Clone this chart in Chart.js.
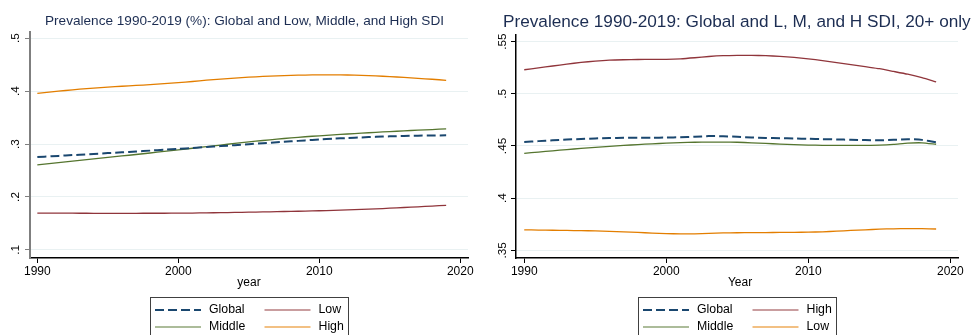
<!DOCTYPE html>
<html><head><meta charset="utf-8">
<script src="https://cdn.jsdelivr.net/npm/chart.js@4.4.1/dist/chart.umd.min.js"></script>
<style>
html,body{margin:0;padding:0;background:#fff;}
#c1{position:absolute;left:0;top:0;}
#c2{position:absolute;left:485px;top:0;}
</style></head><body>
<canvas id="c1" width="485" height="335"></canvas>
<canvas id="c2" width="486" height="335"></canvas>
<script>
const years = [1990,1991,1992,1993,1994,1995,1996,1997,1998,1999,2000,2001,2002,2003,2004,2005,2006,2007,2008,2009,2010,2011,2012,2013,2014,2015,2016,2017,2018,2019];
const xTicks = [1990,2000,2010,2020];
const leftYTicks = [0.1,0.2,0.3,0.4,0.5];
const rightYTicks = [0.35,0.4,0.45,0.5,0.55];

// Left panel: all ages (%)
const leftGlobal = [.2753,.2768,.2783,.2798,.2813,.2828,.2843,.2859,.2875,.2892,.2909,.2925,.2942,.2960,.2978,.2996,.3014,.3032,.3050,.3068,.3085,.3100,.3113,.3125,.3135,.3144,.3151,.3157,.3161,.3164];
const leftLow = [.1696,.1695,.1694,.1693,.1692,.1692,.1692,.1692,.1693,.1693,.1694,.1697,.1700,.1704,.1708,.1713,.1718,.1723,.1728,.1734,.1740,.1747,.1755,.1765,.1776,.1788,.1801,.1814,.1828,.1842];
const leftMiddle = [.2606,.2634,.2662,.2690,.2718,.2746,.2774,.2802,.2830,.2860,.2890,.2920,.2950,.2980,.3010,.3040,.3066,.3092,.3115,.3137,.3155,.3172,.3189,.3205,.3220,.3234,.3248,.3261,.3273,.3285];
const leftHigh = [.3956,.3985,.4010,.4035,.4055,.4075,.4090,.4105,.4120,.4138,.4160,.4180,.4205,.4225,.4245,.4262,.4275,.4287,.4296,.4302,.4305,.4306,.4303,.4296,.4286,.4272,.4257,.4240,.4222,.4203];

// Right panel: 20+ only
const rightGlobal = [.4538,.4546,.4554,.4561,.4567,.4572,.4576,.4578,.4579,.4579,.4580,.4583,.4588,.4594,.4593,.4587,.4581,.4577,.4574,.4571,.4568,.4565,.4562,.4559,.4556,.4554,.4558,.4565,.4558,.4535];
const rightHigh = [.5230,.5248,.5266,.5284,.5300,.5313,.5322,.5326,.5328,.5329,.5330,.5335,.5345,.5357,.5365,.5368,.5368,.5365,.5358,.5348,.5334,.5318,.5299,.5279,.5259,.5240,.5214,.5187,.5154,.5114];
const rightMiddle = [.4429,.4441,.4453,.4465,.4476,.4486,.4496,.4505,.4513,.4520,.4526,.4531,.4535,.4537,.4537,.4535,.4530,.4524,.4518,.4512,.4508,.4506,.4505,.4505,.4506,.4508,.4515,.4527,.4530,.4516];
const rightLow = [.3696,.3694,.3692,.3690,.3688,.3686,.3682,.3677,.3671,.3665,.3660,.3657,.3658,.3662,.3666,.3668,.3669,.3670,.3671,.3672,.3674,.3677,.3683,.3690,.3696,.3702,.3706,.3708,.3707,.3704];

const NAVY = '#1a476f', MAROON = '#90353b', GREEN = '#55752f', ORANGE = '#e37e00';
const FONT = '"Liberation Sans", Arial, Helvetica, sans-serif';

function pts(arr){ return arr.map((v,i)=>({x: years[i], y: v})); }
function ds(label, arr, color, dashed){
  return {label, data: pts(arr), borderColor: color, backgroundColor: color,
    borderWidth: dashed ? 2 : 1.3, borderDash: dashed ? [9,4] : [], pointRadius: 0,
    tension: 0.2, fill: false};
}
function fmtY(v){ return String(+v.toFixed(2)).replace(/^0\./,'.'); }

const decor = {
  id: 'decor',
  afterDraw(chart, args, o){
    const ctx = chart.ctx, ca = chart.chartArea;
    ctx.save();
    // title
    ctx.fillStyle = '#1c2d52';
    ctx.font = o.titleSize + 'px ' + FONT;
    ctx.textAlign = o.titleAlign; ctx.textBaseline = 'middle';
    ctx.fillText(o.title, o.titleX, o.titleY);
    // y tick labels (rotated)
    const ys = chart.scales.y;
    ctx.fillStyle = '#000';
    ctx.font = o.tickSize + 'px ' + FONT;
    ys.ticks.forEach(t=>{
      const py = ys.getPixelForValue(t.value);
      ctx.save();
      ctx.translate(ca.left - o.yLabOff, py);
      ctx.rotate(-Math.PI/2);
      ctx.textAlign = 'center'; ctx.textBaseline = 'middle';
      ctx.fillText(fmtY(t.value), 0, 0);
      ctx.restore();
    });
    // x title
    ctx.font = '12px ' + FONT;
    ctx.textAlign = 'center'; ctx.textBaseline = 'middle';
    ctx.fillText(o.xTitle, (ca.left + ca.right)/2 + o.xTitleDx, o.xTitleY);
    // legend
    const cx = (ca.left + ca.right)/2 + o.legDx;
    const bw = 198, bx = Math.round(cx - bw/2) + 0.5, by = o.legTop + 0.5;
    ctx.strokeStyle = '#404040'; ctx.lineWidth = 1; ctx.setLineDash([]);
    ctx.strokeRect(bx, by, bw, 60);
    const dsets = chart.data.datasets;
    const cols = [bx + 4.5, bx + 114];
    const rows = [o.legTop + 13, o.legTop + 30];
    dsets.forEach((d,i)=>{
      const c = i % 2, r = Math.floor(i/2);
      const lx = cols[c], ly = rows[r];
      ctx.save();
      ctx.strokeStyle = d.borderColor;
      ctx.lineWidth = d.borderDash.length ? 2 : 1.6;
      ctx.globalAlpha = d.borderDash.length ? 1 : 0.65;
      ctx.setLineDash(d.borderDash);
      ctx.beginPath(); ctx.moveTo(lx, ly); ctx.lineTo(lx + 46, ly); ctx.stroke();
      ctx.restore();
      ctx.fillStyle = '#000';
      ctx.font = '12.3px ' + FONT;
      ctx.textAlign = 'left'; ctx.textBaseline = 'middle';
      ctx.fillText(d.label, lx + 54, ly);
    });
    ctx.restore();
  }
};

function makeChart(id, datasets, yTicks, yMin, yMax, xMin, xMax, yAxisColor, yAxisWidth, pad, yWidth, decorOpts){
  return new Chart(document.getElementById(id), {
    type: 'line',
    data: { datasets },
    plugins: [decor],
    options: {
      responsive: false, animation: false, devicePixelRatio: 1,
      layout: { padding: pad },
      plugins: { legend: {display:false}, title: {display:false}, tooltip: {enabled:false}, decor: decorOpts },
      scales: {
        x: {
          type: 'linear', min: xMin, max: xMax,
          afterBuildTicks: s => { s.ticks = xTicks.map(v=>({value:v})); },
          afterFit: s => { s.height = 77; },
          grid: { drawOnChartArea: false, drawTicks: true, tickLength: 5, tickColor: '#000', tickWidth: 1 },
          border: { display: true, color: '#000', width: 1.5 },
          ticks: { color: '#000', padding: 1, font: { family: FONT, size: 12 }, callback: v => String(v), maxRotation: 0 }
        },
        y: {
          type: 'linear', min: yMin, max: yMax,
          afterBuildTicks: s => { s.ticks = yTicks.map(v=>({value:v})); },
          afterFit: s => { s.width = yWidth; },
          grid: { color: '#e9f1f2', lineWidth: 1, drawTicks: true, tickLength: 5, tickColor: yAxisColor, tickWidth: 1 },
          border: { display: true, color: yAxisColor, width: yAxisWidth },
          ticks: { display: false }
        }
      }
    }
  });
}

makeChart('c1',
  [ds('Global', leftGlobal, NAVY, true), ds('Low', leftLow, MAROON), ds('Middle', leftMiddle, GREEN), ds('High', leftHigh, ORANGE)],
  leftYTicks, 0.0848, 0.512, 1989.48, 2020.55, '#7f7f7f', 2,
  { top: 31.7, left: 0, right: 17, bottom: 0 }, 30,
  { title: 'Prevalence 1990-2019 (%): Global and Low, Middle, and High SDI', titleSize: 13.6, titleAlign: 'left', titleX: 45, titleY: 21,
    tickSize: 11.8, yLabOff: 14, xTitle: 'year', xTitleY: 283, xTitleDx: 0, legTop: 297, legDx: 0 });

makeChart('c2',
  [ds('Global', rightGlobal, NAVY, true), ds('High', rightHigh, MAROON), ds('Middle', rightMiddle, GREEN), ds('Low', rightLow, ORANGE)],
  rightYTicks, 0.3426, 0.5563, 1989.42, 2020.54, '#000', 1.5,
  { top: 35, left: 0, right: 13, bottom: 0 }, 31,
  { title: 'Prevalence 1990-2019: Global and L, M, and H SDI, 20+ only', titleSize: 17.2, titleAlign: 'left', titleX: 18, titleY: 22,
    tickSize: 11.8, yLabOff: 13.5, xTitle: 'Year', xTitleY: 283, xTitleDx: 3, legTop: 297, legDx: 0 });
</script>
</body></html>
